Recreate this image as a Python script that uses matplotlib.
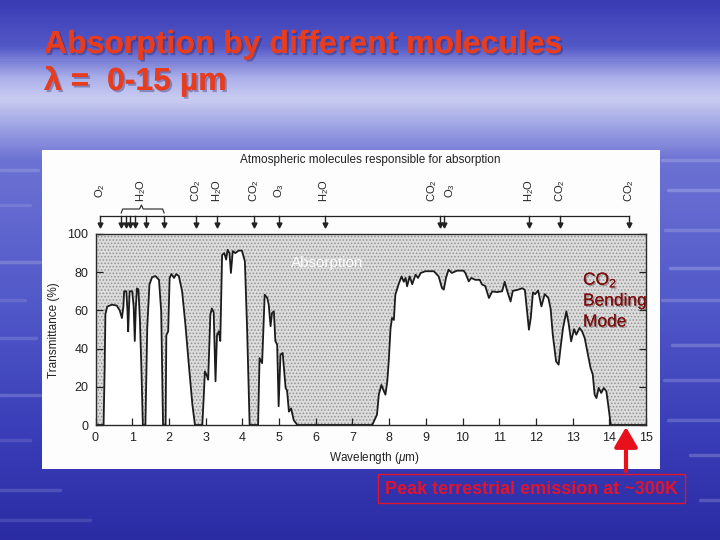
import numpy as np
import matplotlib
matplotlib.use('Agg')
import matplotlib.pyplot as plt
from matplotlib.patches import Rectangle, FancyArrowPatch
from matplotlib.colors import LinearSegmentedColormap
import matplotlib.patheffects as pe

plt.rcParams['font.family'] = ['Liberation Sans', 'DejaVu Sans']
plt.rcParams['mathtext.fontset'] = 'custom'
plt.rcParams['mathtext.rm'] = 'Liberation Sans'
plt.rcParams['mathtext.it'] = 'Liberation Sans:italic'
plt.rcParams['mathtext.bf'] = 'Liberation Sans:bold'
plt.rcParams['hatch.linewidth'] = 0.7

# ---------------- data ----------------
wavelength = [0.0, 0.22, 0.25, 0.27, 0.32, 0.45, 0.58, 0.66, 0.72, 0.76, 0.78, 0.84, 0.87, 0.89,
              0.91, 0.93, 1.00, 1.04, 1.07, 1.10, 1.13, 1.17, 1.21, 1.25, 1.29,
              1.36, 1.41, 1.47, 1.54, 1.63, 1.73, 1.79, 1.84,
              1.91, 1.93, 1.98, 2.02, 2.07, 2.14, 2.20, 2.27, 2.36, 2.45, 2.55, 2.64, 2.71,
              2.91, 2.95, 2.98, 3.03, 3.07, 3.13, 3.17, 3.22, 3.27, 3.31, 3.36, 3.40, 3.45,
              3.51, 3.56, 3.60, 3.65, 3.69, 3.74, 3.81, 3.90, 3.99, 4.07, 4.13, 4.20,
              4.43, 4.47, 4.54, 4.61, 4.68, 4.72, 4.77, 4.81, 4.86, 4.90, 4.95, 4.99, 5.04,
              5.10, 5.18, 5.22, 5.27, 5.33, 5.40, 5.50,
              7.54, 7.67, 7.72, 7.79, 7.86, 7.90, 7.95, 7.99, 8.04, 8.08, 8.13, 8.17, 8.27,
              8.34, 8.40, 8.45, 8.49, 8.56, 8.63, 8.72, 8.79, 8.86, 8.99, 9.22, 9.35, 9.44,
              9.49, 9.55, 9.62, 9.71, 9.85, 10.03, 10.08, 10.17, 10.24, 10.35, 10.47, 10.53,
              10.62, 10.72, 10.81, 10.94, 11.08, 11.15, 11.22, 11.31, 11.37, 11.49, 11.63,
              11.70, 11.75, 11.81, 11.86, 11.92, 11.98, 12.06, 12.15, 12.24, 12.34, 12.40,
              12.46, 12.55, 12.62, 12.67, 12.74, 12.83, 12.89, 12.96, 13.04, 13.10, 13.19,
              13.26, 13.33, 13.42, 13.49, 13.55, 13.60, 13.65, 13.71, 13.78, 13.85, 13.92,
              13.97, 14.04, 15.0]
transmittance = [0, 0, 30, 58, 62, 63, 62.5, 60, 56, 62, 70, 70, 60, 49,
                 60, 70, 70, 62, 44, 62, 71.5, 71, 55, 30, 0,
                 0, 51, 73.5, 77.3, 78, 76, 59.5, 0,
                 0, 47, 49, 77, 79, 77, 79, 78, 70, 52.5, 30, 10.6, 0,
                 0, 15, 28, 26, 23.7, 57.8, 61, 59, 22.9, 47, 49, 44, 89,
                 90, 86.6, 91.7, 90, 79.6, 91, 90, 91.3, 91.3, 85.7, 50.8, 0,
                 0, 35, 32.4, 68.2, 66.5, 63, 51.7, 58.6, 59.5, 44, 42, 9.8, 36.8,
                 37.7, 19.4, 18, 7, 8.7, 2.6, 0,
                 0, 5.4, 15.9, 21, 17.6, 15.9, 22.7, 33.3, 50.8, 56, 55, 68.2, 74.3,
                 77.8, 75, 77, 72.6, 77.8, 73.7, 78.7, 77, 79.6, 80.5, 80.5, 77.8, 71.7,
                 70.9, 77, 81.3, 79.6, 80.8, 80.8, 79.5, 75.2, 77, 76, 76, 73.6,
                 72.7, 66.5, 69.9, 69.6, 70, 75, 70, 64.7, 70.2, 70.7, 71.6,
                 70.7, 61.3, 49.9, 56, 69.4, 68.5, 70.4, 62.1, 68.5, 66.5, 61,
                 47.3, 33.3, 31.6, 40.3, 50.8, 59.5, 53.4, 43.8, 50.2, 47.3, 50.8,
                 49, 45.5, 36.8, 29.8, 26.4, 15.9, 14.1, 19.4, 16.8, 19.4, 17.6,
                 10.6, 0, 0]

x_ticks = list(range(0, 16))
y_ticks = [0, 20, 40, 60, 80, 100]

arrow_positions = [0.12, 0.70, 0.83, 0.94, 1.08, 1.38, 1.87, 2.75, 3.32, 4.33, 5.01,
                   6.24, 9.39, 9.49, 11.82, 12.67, 14.55]
molecule_names = ['O$_2$', 'H$_2$O', 'CO$_2$', 'H$_2$O', 'CO$_2$', 'O$_3$', 'H$_2$O',
                  'CO$_2$', 'O$_3$', 'H$_2$O', 'CO$_2$', 'CO$_2$']
molecule_label_pos = [0.12, 1.25, 2.75, 3.32, 4.33, 5.01, 6.24, 9.18, 9.66, 11.82, 12.67, 14.55]

# ---------------- figure ----------------
W, H = 720, 540
fig = plt.figure(figsize=(7.2, 5.4), dpi=100)


def fx(px):
    return px / W


def fy(py):
    return 1 - py / H


# background gradient
bg = fig.add_axes([0, 0, 1, 1], zorder=-10)
stops = [(0.0, '#3a3cb4'), (45 / 540, '#5358c7'), (78 / 540, '#aeb2ea'),
         (98 / 540, '#c9ccf1'), (122 / 540, '#a3a8e5'), (160 / 540, '#6c72d3'),
         (300 / 540, '#5259c9'), (430 / 540, '#3a3eb8'), (1.0, '#2a2ca4')]
cmap = LinearSegmentedColormap.from_list('bg', stops)
grad = np.linspace(0, 1, 540)[:, None] * np.ones((1, 4))
bg.imshow(grad, cmap=cmap, aspect='auto', extent=[0, 1, 0, 1], origin='upper',
          interpolation='bilinear')
bg.set_xlim(0, 1)
bg.set_ylim(0, 1)
bg.axis('off')

# soft decorative water streaks on the slide margins
streaks = [(0, 38, 170, 0.15), (0, 30, 205, 0.12), (0, 40, 262, 0.18), (0, 25, 300, 0.12),
           (0, 36, 338, 0.15), (0, 40, 395, 0.18), (0, 30, 440, 0.12), (0, 60, 490, 0.15),
           (0, 90, 520, 0.12), (662, 720, 160, 0.18), (668, 720, 190, 0.2), (665, 720, 230, 0.18),
           (670, 720, 268, 0.2), (662, 720, 300, 0.18), (672, 720, 345, 0.2),
           (664, 720, 380, 0.18), (668, 720, 420, 0.18), (690, 720, 455, 0.2),
           (700, 720, 500, 0.18)]
for x0, x1, yy, a in streaks:
    bg.plot([fx(x0), fx(x1)], [fy(yy), fy(yy)], color='white', lw=2.5, alpha=a,
            solid_capstyle='round')

# white panel (the scanned figure)
panel = Rectangle((fx(42), fy(469)), fx(660) - fx(42), (469 - 150) / H,
                  transform=fig.transFigure, facecolor='#fdfdfd', edgecolor='none', zorder=-5)
fig.patches.append(panel)

# main axes
ax = fig.add_axes([fx(95.5), fy(425), (646 - 95.5) / W, (425 - 234) / H])
ax.set_facecolor('white')
ax.fill_between(wavelength, transmittance, 100, facecolor='#dcdcdc', edgecolor='#939393',
                hatch='.....', linewidth=0)
ax.plot(wavelength, transmittance, color='#1c1c1c', lw=1.3)
ax.set_xlim(0, 15)
ax.set_ylim(0, 100)
ax.set_xticks(x_ticks)
ax.set_yticks(y_ticks)
ax.tick_params(direction='in', length=5, width=0.9, labelsize=9, colors='#222222',
               right=True, top=False, pad=5)
for s in ax.spines.values():
    s.set_linewidth(1.0)
    s.set_color('#2a2a2a')

fig.text(fx(374), fy(458), 'Wavelength ($\\mathit{\\mu}$m)', ha='center', va='center',
         fontsize=8.5, color='#222222')
fig.text(fx(54), fy(330), 'Transmittance (%)', ha='center', va='center', rotation=90,
         fontsize=8.5, color='#222222')

# molecules
trans = ax.get_xaxis_transform()


def ay(py):
    return (425 - py) / 191


ax.plot([arrow_positions[0], arrow_positions[-1]], [ay(216), ay(216)], color='#222222',
        lw=0.9, transform=trans, clip_on=False)
for p in arrow_positions:
    ax.plot([p, p], [ay(216), ay(224)], color='#222222', lw=1.0, transform=trans, clip_on=False)
    ax.plot([p], [ay(225)], marker='v', ms=3.5, color='#222222', transform=trans, clip_on=False)
for name, p in zip(molecule_names, molecule_label_pos):
    ax.text(p, ay(191), name, rotation=90, ha='center', va='center', fontsize=8,
            color='#222222', transform=trans, clip_on=False)

# brace over H2O group
bx = [0.70, 0.74, 1.20, 1.25, 1.30, 1.83, 1.87]
byp = [213, 209, 209, 205, 209, 209, 213]
ax.plot(bx, [ay(v) for v in byp], color='#222222', lw=0.8, transform=trans, clip_on=False)

ax.text(7.5, ay(160), 'Atmospheric molecules responsible for absorption', ha='center',
        va='center', fontsize=8.5, color='#222222', transform=trans, clip_on=False)

ax.text(6.3, 85, 'Absorption', ha='center', va='center', fontsize=11, color='white',
        alpha=0.95)

# CO2 bending mode
dark_shadow = [pe.withSimplePatchShadow(offset=(1, -1), shadow_rgbFace='#444444', alpha=0.4),
               pe.Normal()]
for txt, py in [('CO$_2$', 280), ('Bending', 301), ('Mode', 322)]:
    fig.text(fx(583), fy(py), txt, ha='left', va='center', fontsize=12.5, color='#7e0c0c',
             path_effects=dark_shadow)

# red arrow
fig.add_artist(FancyArrowPatch(
    (fx(626), fy(471)), (fx(626), fy(427)), transform=fig.transFigure,
    arrowstyle='-|>,head_width=0.35,head_length=0.6', mutation_scale=20,
    color='#e8101a', lw=3, shrinkA=0, shrinkB=0))

# box
box = Rectangle((fx(378), fy(503)), (685 - 378) / W, (503 - 474) / H,
                transform=fig.transFigure, facecolor='none', edgecolor='#e0142c', lw=1.0)
fig.patches.append(box)
fig.text(fx(531.5), fy(489), 'Peak terrestrial emission at ~300K', ha='center', va='center',
         fontsize=13, fontweight='bold', color='#e0142c')

# slide title
shadow = [pe.withSimplePatchShadow(offset=(1.5, -1.5), shadow_rgbFace='#202060', alpha=0.35),
          pe.Normal()]
fig.text(fx(44), fy(53), 'Absorption by different molecules', ha='left', va='baseline',
         fontsize=23, fontweight='bold', color='#e83c1e', path_effects=shadow)
fig.text(fx(44), fy(90), 'λ =  0-15 µm', ha='left', va='baseline',
         fontsize=23, fontweight='bold', color='#e83c1e', path_effects=shadow)

fig.savefig('out.png', dpi=100)
